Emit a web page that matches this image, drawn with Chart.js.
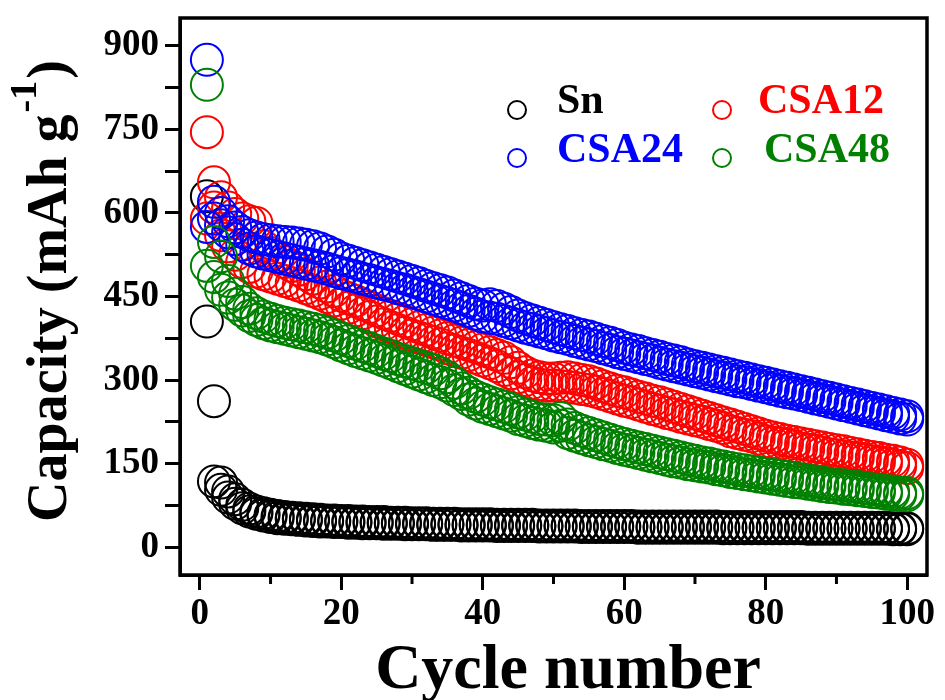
<!DOCTYPE html>
<html>
<head>
<meta charset="utf-8">
<title>Cycling capacity</title>
<script src="https://cdn.jsdelivr.net/npm/chart.js@4/dist/chart.umd.min.js"></script>
<style>
  body { margin: 0; background: #fff; }
</style>
</head>
<body>
<canvas id="capChart" width="945" height="700"></canvas>
<script>
// cycle numbers 1..100
const cycles = Array.from({ length: 100 }, (_, i) => i + 1);

// Sn
const snDis = [630, 262, 116, 100, 86, 76, 69, 64, 61, 58,
  56, 54, 53, 52, 51, 50, 49, 48, 48, 47,
  47, 46, 46, 45, 45, 45, 44, 44, 44, 43,
  43, 43, 42, 42, 42, 42, 41, 41, 41, 41,
  41, 40, 40, 40, 40, 40, 40, 39, 39, 39,
  39, 39, 39, 38, 38, 38, 38, 38, 38, 38,
  38, 37, 37, 37, 37, 37, 37, 37, 37, 37,
  37, 37, 37, 36, 36, 36, 36, 36, 36, 36,
  36, 36, 36, 36, 36, 35, 35, 35, 35, 35,
  35, 35, 35, 35, 35, 35, 35, 34, 34, 34];
const snChg = [405, 118, 103, 89, 78, 70, 64, 60, 57, 54,
  52, 51, 50, 49, 48, 47, 46, 46, 45, 45,
  44, 44, 43, 43, 43, 42, 42, 42, 41, 41,
  41, 41, 40, 40, 40, 40, 39, 39, 39, 39,
  39, 38, 38, 38, 38, 38, 38, 37, 37, 37,
  37, 37, 37, 36, 36, 36, 36, 36, 36, 36,
  36, 35, 35, 35, 35, 35, 35, 35, 35, 35,
  35, 35, 35, 34, 34, 34, 34, 34, 34, 34,
  34, 34, 34, 34, 34, 33, 33, 33, 33, 33,
  33, 33, 33, 33, 33, 33, 33, 32, 32, 32];

// CSA12
const csa12Dis = [745, 655, 628, 610, 598, 590, 585, 582, 540, 528,
  520, 512, 505, 498, 490, 482, 475, 468, 460, 452,
  447, 442, 436, 431, 425, 420, 415, 410, 405, 400,
  395, 390, 385, 380, 375, 371, 367, 363, 359, 355,
  350, 345, 340, 332, 322, 314, 308, 305, 303, 303,
  304, 305, 303, 300, 298, 294, 289, 285, 281, 278,
  274, 270, 267, 263, 260, 256, 252, 248, 244, 240,
  236, 232, 228, 224, 220, 216, 212, 208, 204, 200,
  197, 194, 191, 189, 186, 184, 181, 179, 176, 174,
  172, 169, 167, 164, 162, 160, 157, 155, 152, 148];
const csa12Chg = [590, 610, 560, 540, 525, 512, 503, 495, 490, 486,
  482, 478, 474, 470, 465, 460, 455, 449, 443, 437,
  430, 425, 420, 413, 405, 400, 395, 390, 385, 380,
  376, 372, 368, 364, 357, 353, 349, 345, 340, 335,
  330, 325, 318, 312, 305, 300, 295, 292, 290, 290,
  289, 288, 286, 284, 282, 279, 275, 271, 267, 263,
  260, 256, 252, 248, 245, 241, 238, 234, 231, 228,
  225, 221, 218, 214, 208, 205, 202, 199, 195, 190,
  188, 186, 184, 181, 177, 175, 173, 170, 167, 165,
  163, 161, 159, 157, 154, 152, 150, 148, 145, 142];

// CSA24
const csa24Dis = [875, 620, 600, 585, 574, 566, 560, 556, 553, 551,
  549, 548, 547, 545, 543, 540, 536, 531, 525, 518,
  514, 510, 506, 502, 498, 494, 490, 486, 482, 478,
  474, 469, 465, 461, 457, 452, 447, 442, 437, 434,
  436, 433, 428, 422, 416, 411, 407, 403, 399, 395,
  391, 388, 384, 381, 378, 374, 370, 367, 363, 358,
  355, 352, 348, 345, 342, 338, 335, 332, 328, 325,
  322, 319, 316, 313, 310, 307, 304, 301, 298, 295,
  292, 289, 286, 283, 280, 277, 274, 271, 268, 265,
  262, 259, 256, 253, 250, 247, 244, 241, 238, 235];
const csa24Chg = [575, 590, 578, 565, 553, 543, 536, 531, 527, 524,
  521, 518, 515, 512, 509, 506, 503, 500, 496, 492,
  489, 486, 482, 479, 475, 472, 469, 465, 462, 458,
  454, 450, 446, 442, 438, 434, 429, 424, 419, 414,
  412, 410, 406, 402, 398, 394, 391, 387, 384, 380,
  377, 374, 370, 367, 364, 361, 357, 354, 350, 347,
  344, 341, 338, 335, 331, 328, 325, 322, 319, 316,
  313, 310, 307, 304, 301, 298, 296, 293, 290, 287,
  284, 281, 278, 276, 273, 270, 267, 264, 261, 258,
  255, 252, 249, 246, 243, 240, 237, 234, 231, 229];

// CSA48
const csa48Dis = [830, 548, 522, 478, 455, 440, 428, 420, 414, 410,
  406, 403, 400, 398, 395, 392, 389, 385, 380, 375,
  370, 365, 361, 357, 352, 347, 343, 338, 334, 330,
  326, 322, 318, 312, 305, 295, 285, 277, 270, 265,
  260, 256, 252, 248, 242, 238, 234, 230, 229, 228,
  232, 220, 214, 209, 205, 201, 197, 193, 189, 185,
  182, 179, 176, 173, 170, 167, 164, 161, 158, 155,
  152, 150, 147, 145, 142, 140, 138, 136, 134, 132,
  130, 128, 126, 124, 122, 120, 118, 116, 114, 113,
  111, 109, 108, 106, 104, 103, 101, 100, 98, 97];
const csa48Chg = [505, 485, 462, 448, 435, 425, 415, 408, 402, 398,
  395, 392, 389, 386, 383, 380, 377, 373, 368, 362,
  357, 352, 348, 344, 340, 335, 330, 325, 320, 315,
  310, 305, 300, 296, 290, 282, 275, 265, 258, 252,
  248, 244, 240, 236, 230, 227, 223, 220, 218, 215,
  218, 205, 200, 196, 192, 189, 185, 182, 178, 175,
  172, 169, 166, 163, 160, 157, 154, 152, 149, 147,
  145, 143, 140, 138, 135, 133, 131, 129, 127, 125,
  123, 121, 119, 117, 116, 114, 112, 110, 108, 107,
  105, 104, 102, 101, 99, 98, 96, 95, 94, 93];

const seriesNames = ['Sn', 'CSA12', 'CSA24', 'CSA48'];
const seriesColors = ['#000000', '#ff0000', '#0000ff', '#008000'];
const xMajorTicks = [0, 20, 40, 60, 80, 100];
const xMinorTicks = [10, 30, 50, 70, 90];
const yTicks = [0, 75, 150, 225, 300, 375, 450, 525, 600, 675, 750, 825, 900];

const FONT = "'Liberation Serif', 'Times New Roman', serif";

const toPoints = vals => cycles.map((c, i) => ({ x: c, y: vals[i] }));

function makeSet(name, color, vals, order) {
  return {
    label: name,
    data: toPoints(vals),
    borderColor: color,
    backgroundColor: 'rgba(0,0,0,0)',
    pointRadius: 16,
    pointHoverRadius: 16,
    pointBorderWidth: 2,
    showLine: false,
    order: order,
    clip: false
  };
}

// frame, minor ticks, axis titles and legend
const decorations = {
  id: 'decorations',
  afterDraw(chart) {
    const ctx = chart.ctx;
    const a = chart.chartArea;
    const xs = chart.scales.x;
    ctx.save();
    ctx.strokeStyle = '#000';
    ctx.lineWidth = 3.5;
    ctx.strokeRect(a.left, a.top, a.right - a.left, a.bottom - a.top);

    ctx.lineWidth = 3;
    xMinorTicks.forEach(v => {
      const px = xs.getPixelForValue(v);
      ctx.beginPath();
      ctx.moveTo(px, a.bottom);
      ctx.lineTo(px, a.bottom + 9);
      ctx.stroke();
    });

    // x title
    ctx.fillStyle = '#000';
    ctx.font = 'bold 64px ' + FONT;
    ctx.textAlign = 'center';
    ctx.textBaseline = 'alphabetic';
    ctx.fillText('Cycle number', 568, 688);

    // y title with superscript
    const mainTxt = 'Capacity (mAh g';
    ctx.font = 'bold 56px ' + FONT;
    const wMain = ctx.measureText(mainTxt).width;
    const wClose = ctx.measureText(')').width;
    ctx.font = 'bold 38px ' + FONT;
    const wSup = ctx.measureText('-1').width;
    const total = wMain + wSup + wClose + 4;
    ctx.translate(66, 291 + total / 2);
    ctx.rotate(-Math.PI / 2);
    ctx.textAlign = 'left';
    ctx.font = 'bold 56px ' + FONT;
    ctx.fillText(mainTxt, 0, 0);
    ctx.font = 'bold 38px ' + FONT;
    ctx.fillText('-1', wMain + 2, -30);
    ctx.font = 'bold 56px ' + FONT;
    ctx.fillText(')', wMain + wSup + 4, 0);
    ctx.restore();

    // legend
    const legendPos = [
      { cx: 517, cy: 110, tx: 557, ty: 113 },
      { cx: 722, cy: 110, tx: 758, ty: 113 },
      { cx: 517, cy: 158, tx: 557, ty: 162 },
      { cx: 722, cy: 158, tx: 764, ty: 162 }
    ];
    ctx.save();
    ctx.font = 'bold 42px ' + FONT;
    ctx.textAlign = 'left';
    ctx.textBaseline = 'alphabetic';
    ctx.lineWidth = 2;
    seriesNames.forEach((n, i) => {
      const p = legendPos[i];
      ctx.strokeStyle = seriesColors[i];
      ctx.beginPath();
      ctx.arc(p.cx, p.cy, 9, 0, Math.PI * 2);
      ctx.stroke();
      ctx.fillStyle = seriesColors[i];
      ctx.fillText(n, p.tx, p.ty);
    });
    ctx.restore();
  }
};

const ctx = document.getElementById('capChart').getContext('2d');
const capChart = new Chart(ctx, {
  type: 'scatter',
  data: {
    datasets: [
      makeSet('Sn', seriesColors[0], snDis, 8),
      makeSet('Sn charge', seriesColors[0], snChg, 7),
      makeSet('CSA12', seriesColors[1], csa12Dis, 6),
      makeSet('CSA12 charge', seriesColors[1], csa12Chg, 5),
      makeSet('CSA24', seriesColors[2], csa24Dis, 4),
      makeSet('CSA24 charge', seriesColors[2], csa24Chg, 3),
      makeSet('CSA48', seriesColors[3], csa48Dis, 2),
      makeSet('CSA48 charge', seriesColors[3], csa48Chg, 1)
    ]
  },
  options: {
    responsive: false,
    animation: false,
    layout: { padding: { top: 14, right: 12, left: 0, bottom: 0 } },
    scales: {
      x: {
        type: 'linear',
        min: -2.8,
        max: 102.8,
        afterBuildTicks: s => { s.ticks = xMajorTicks.map(v => ({ value: v })); },
        afterFit: s => { s.height = 125; s.paddingLeft = 0; s.paddingRight = 0; },
        grid: { drawOnChartArea: false, drawTicks: true, tickLength: 15, tickWidth: 3, tickColor: '#000' },
        border: { display: true, width: 3, color: '#000' },
        ticks: {
          color: '#000',
          padding: 2,
          maxRotation: 0,
          autoSkip: false,
          font: { family: FONT, size: 37, weight: 'bold' }
        }
      },
      y: {
        min: -50,
        max: 950,
        afterBuildTicks: s => { s.ticks = yTicks.map(v => ({ value: v })); },
        afterFit: s => { s.width = 180; s.paddingTop = 0; s.paddingBottom = 0; },
        grid: { drawOnChartArea: false, drawTicks: true, tickLength: 15, tickWidth: 3, tickColor: '#000' },
        border: { display: true, width: 3, color: '#000' },
        ticks: {
          color: '#000',
          padding: 6,
          autoSkip: false,
          font: { family: FONT, size: 37, weight: 'bold' },
          callback: v => (v % 150 === 0 ? String(v) : '')
        }
      }
    },
    plugins: {
      legend: { display: false },
      tooltip: { enabled: false }
    }
  },
  plugins: [decorations]
});
</script>
</body>
</html>
